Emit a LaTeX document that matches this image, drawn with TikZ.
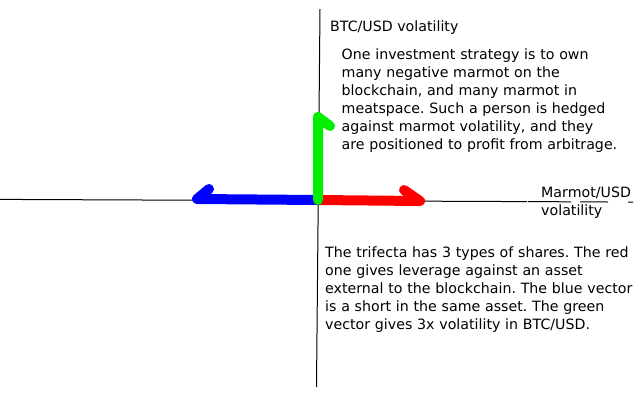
\documentclass[tikz,border=0pt]{standalone}
\usepackage{fontspec}
\setmainfont{DejaVu Sans}
\frenchspacing
\begin{document}
\begin{tikzpicture}[x=1pt,y=-1pt,
  axis/.style={black,line width=1pt},
  vec/.style={line width=10pt,line cap=round,line join=round},
  txt/.style={anchor=base west,inner sep=0pt,align=left,
    font=\fontsize{14.2}{18}\selectfont},
  lbl/.style={anchor=base west,inner sep=0pt,font=\fontsize{14.2}{18}\selectfont}]
\definecolor{vred}{RGB}{255,0,0}
\definecolor{vblue}{RGB}{0,0,255}
\definecolor{vgreen}{RGB}{0,238,0}
\useasboundingbox (0,0) rectangle (640,400);
% axes
\coordinate (hl) at (0,199.4);
\coordinate (g1) at (527,201.6);
\coordinate (g2) at (528,201.6);
\coordinate (g3) at (571,201.8);
\coordinate (g4) at (580,201.8);
\coordinate (g5) at (608,202);
\coordinate (g6) at (628,202);
\coordinate (hr) at (633,202);
\draw[axis] (hl) -- (g1) (g2) -- (g3) (g4) -- (g5) (g6) -- (hr);
\coordinate (vt) at (320,9);
\coordinate (vb) at (316.5,387);
\draw[axis] (vt) -- (vb);
% vectors
\coordinate (o) at (318,200);
\coordinate (rt) at (420,201);
\coordinate (rb) at (404,190);
\coordinate (bt) at (197,199);
\coordinate (bb) at (209,189);
\coordinate (gt) at (318,117);
\coordinate (gb) at (330,126);
\draw[vec,vred] (o) -- (rt) -- (rb);
\draw[vec,vblue] (o) -- (bt) -- (bb);
\draw[vec,vgreen] (o) -- (gt) -- (gb);
% labels
\node[lbl] (ylab) at (330,31) {BTC/USD volatility};
\node[lbl] (xlab1) at (541,197) {Marmot/USD};
\node[lbl] (xlab2) at (541,215) {volatility};
\node[txt,text width=290pt] (top) at (341.5,59) {One investment strategy is to own\\
many negative marmot on the\\
blockchain, and many marmot in\\
meatspace. Such a person is hedged\\
against marmot volatility, and they\\
are positioned to profit from arbitrage.};
\node[txt,text width=312pt] (bot) at (325,257) {The trifecta has 3 types of shares. The red\\
one gives leverage against an asset\\
external to the blockchain. The blue vector\\
is a short in the same asset. The green\\
vector gives 3x volatility in BTC/USD.};
\end{tikzpicture}
\end{document}
